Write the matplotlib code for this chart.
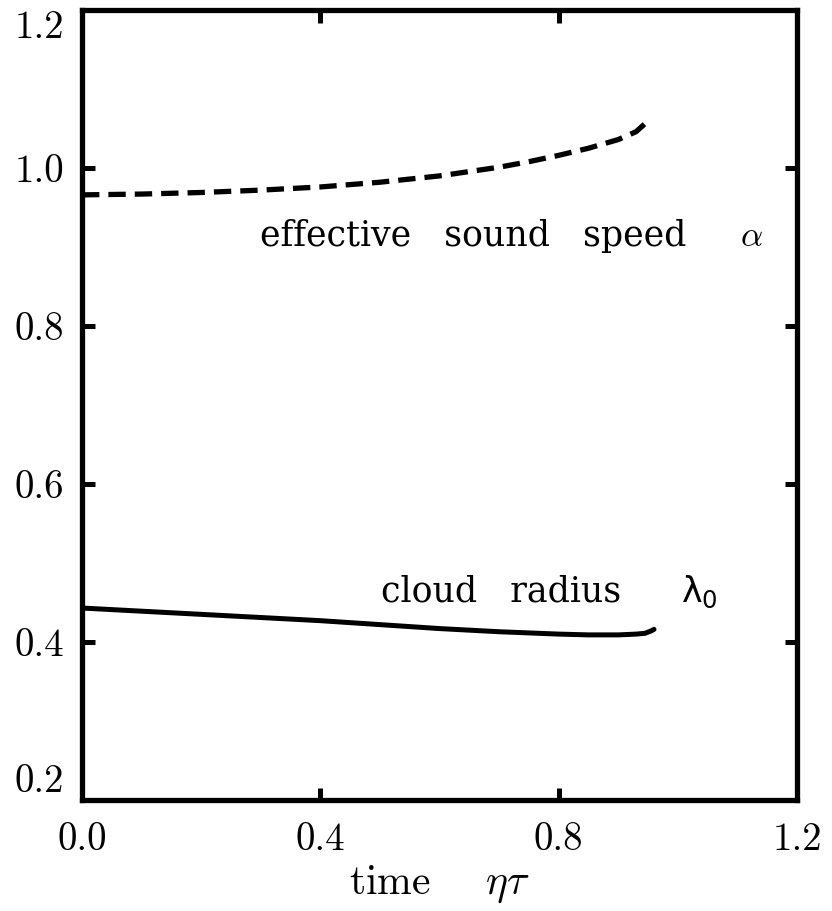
import matplotlib
matplotlib.use("Agg")
import matplotlib.pyplot as plt

# ---- data ----
tau_alpha = [0.0, 0.1, 0.2, 0.3, 0.4, 0.5, 0.6, 0.7, 0.75, 0.8, 0.85, 0.9, 0.93, 0.955]
alpha = [0.966, 0.967, 0.969, 0.972, 0.976, 0.982, 0.990, 1.001, 1.008, 1.016, 1.025, 1.036, 1.046, 1.063]

tau_lam = [0.0, 0.1, 0.2, 0.3, 0.4, 0.5, 0.6, 0.7, 0.8, 0.85, 0.9, 0.93, 0.945, 0.955, 0.96]
lam = [0.443, 0.439, 0.435, 0.431, 0.427, 0.422, 0.417, 0.413, 0.410, 0.409, 0.409, 0.410, 0.411, 0.414, 0.416]

xticks = [0.0, 0.4, 0.8, 1.2]
xticklabels = ["0.0", "0.4", "0.8", "1.2"]
yticks = [0.2, 0.4, 0.6, 0.8, 1.0, 1.2]
yticklabels = ["0.2", "0.4", "0.6", "0.8", "1.0", "1.2"]

plt.rcParams["mathtext.fontset"] = "cm"
plt.rcParams["lines.scale_dashes"] = False

fig = plt.figure(figsize=(8.32, 9.11), dpi=100)
ax = fig.add_axes([82/832, 111/911, 715/832, 790/911])

ax.plot(tau_alpha, alpha, color="black", lw=3.8, linestyle=(0, (12.5, 6.5)),
        solid_capstyle="butt", dash_capstyle="butt")
ax.plot(tau_lam, lam, color="black", lw=3.6, solid_capstyle="round")

ax.set_xlim(0.0, 1.2)
ax.set_ylim(0.2, 1.2)

tick_font = dict(family="cmr10", size=28)
ax.set_xticks(xticks)
ax.set_xticklabels(xticklabels, fontdict=tick_font)
ax.set_yticks(yticks)
ax.set_yticklabels(yticklabels, fontdict=tick_font)
ax.tick_params(direction="in", length=9, width=3.6, top=True, right=True, pad=13)
ax.tick_params(axis="x", pad=16)

ylabels = ax.get_yticklabels()
ylabels[0].set_verticalalignment("bottom")
ylabels[-1].set_verticalalignment("top")

for s in ax.spines.values():
    s.set_linewidth(3.8)

ax.set_xlabel(r"time    $\eta\tau$", family="cmr10", fontsize=30, labelpad=4)

ax.text(0.299, 0.901, "effective   sound   speed", family="DejaVu Serif",
        fontsize=25, ha="left", va="baseline")
ax.text(1.104, 0.901, r"$\alpha$", fontsize=25, ha="left", va="baseline")
ax.text(0.502, 0.451, "cloud   radius", family="DejaVu Serif",
        fontsize=25, ha="left", va="baseline")
ax.text(1.006, 0.451, r"$\mathrm{\lambda}_\mathrm{0}$", math_fontfamily="dejavusans",
        fontsize=25, ha="left", va="baseline")

fig.savefig("out.png", dpi=100)
